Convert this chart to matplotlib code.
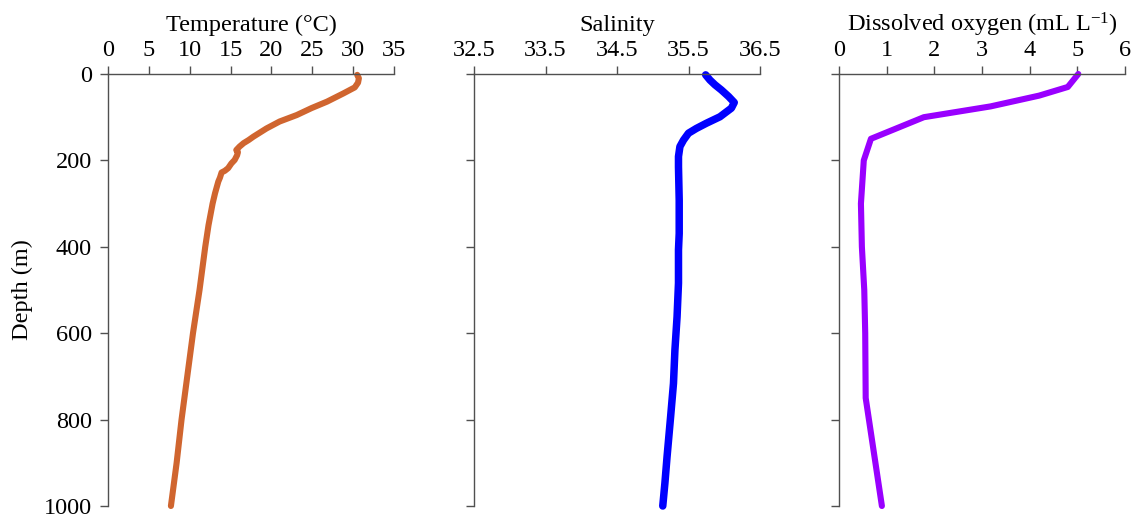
import matplotlib
matplotlib.use("Agg")
import matplotlib.pyplot as plt

plt.rcParams["font.family"] = ["Liberation Serif", "DejaVu Serif"]
plt.rcParams["mathtext.fontset"] = "custom"
plt.rcParams["mathtext.rm"] = "Liberation Serif"
plt.rcParams["mathtext.it"] = "Liberation Serif:italic"
plt.rcParams["mathtext.default"] = "regular"

# Temperature profile (deg C) vs depth (m)
temp_depth = [2, 10, 20, 31, 45, 64, 79, 95, 110, 126, 145, 153, 160, 168, 176,
              181, 188, 199, 207, 218, 224, 228, 240, 249, 276, 300, 350, 400,
              500, 600, 700, 800, 900, 1000]
temp_value = [30.5, 30.7, 30.6, 30.2, 28.8, 26.8, 24.9, 23.1, 21.0, 19.4, 17.8,
              17.2, 16.6, 16.1, 15.7, 15.9, 15.8, 15.5, 15.1, 14.7, 14.3, 13.9,
              13.7, 13.5, 13.1, 12.8, 12.3, 11.9, 11.2, 10.4, 9.7, 9.0, 8.4, 7.7]

# Salinity profile vs depth (m)
sal_depth = [2, 14, 25, 37, 52, 66, 79, 99, 114, 126, 137, 153, 168, 191, 215,
             292, 369, 407, 484, 562, 639, 716, 793, 886, 947, 1000]
sal_value = [35.74, 35.80, 35.87, 35.96, 36.06, 36.14, 36.10, 35.94, 35.75, 35.61,
             35.50, 35.43, 35.38, 35.36, 35.36, 35.37, 35.37, 35.36, 35.36, 35.34,
             35.31, 35.29, 35.25, 35.20, 35.17, 35.14]

# Dissolved oxygen profile (mL/L) vs depth (m)
do_depth = [0, 30, 50, 75, 100, 150, 200, 300, 400, 500, 600, 750, 1000]
do_value = [5.02, 4.80, 4.20, 3.18, 1.78, 0.67, 0.52, 0.46, 0.48, 0.53, 0.55, 0.56, 0.90]

panels = [
    dict(x=temp_value, y=temp_depth, color="#D0652F", lw=4.4,
         xlim=(0, 35), xticks=[0, 5, 10, 15, 20, 25, 30, 35],
         xticklabels=["0", "5", "10", "15", "20", "25", "30", "35"],
         title="Temperature (°C)"),
    dict(x=sal_value, y=sal_depth, color="#0000FF", lw=5.4,
         xlim=(32.5, 36.5), xticks=[32.5, 33.5, 34.5, 35.5, 36.5],
         xticklabels=["32.5", "33.5", "34.5", "35.5", "36.5"],
         title="Salinity"),
    dict(x=do_value, y=do_depth, color="#9900FF", lw=4.4,
         xlim=(0, 6), xticks=[0, 1, 2, 3, 4, 5, 6],
         xticklabels=["0", "1", "2", "3", "4", "5", "6"],
         title="Dissolved oxygen (mL L$^{-1}$)"),
]

depth_ticks = [0, 200, 400, 600, 800, 1000]

fig = plt.figure(figsize=(11.42, 5.19), dpi=100)
lefts = [108 / 1142, 474 / 1142, 839 / 1142]
bottom = 1 - 506 / 519
height = (506 - 74) / 519
width = 286 / 1142

fs = 17.5
spine_color = "#505050"
for i, (p, left) in enumerate(zip(panels, lefts)):
    ax = fig.add_axes([left, bottom, width, height])
    ax.plot(p["x"], p["y"], color=p["color"], lw=p["lw"],
            solid_capstyle="round", solid_joinstyle="round", clip_on=False)
    ax.set_xlim(*p["xlim"])
    ax.set_ylim(1000, 0)
    ax.xaxis.tick_top()
    ax.xaxis.set_label_position("top")
    ax.set_xticks(p["xticks"])
    ax.set_xticklabels(p["xticklabels"])
    ax.set_yticks(depth_ticks)
    if i == 0:
        ax.set_yticklabels([str(d) for d in depth_ticks])
        ax.set_ylabel("Depth (m)", fontsize=fs, labelpad=8)
    else:
        ax.set_yticklabels([])
    ax.set_xlabel(p["title"], fontsize=fs, labelpad=6)
    for side in ("right", "bottom"):
        ax.spines[side].set_visible(False)
    for side in ("left", "top"):
        ax.spines[side].set_color(spine_color)
        ax.spines[side].set_linewidth(1.0)
    ax.tick_params(axis="both", direction="out", length=5.5, width=1.0,
                   color=spine_color, labelsize=fs, pad=4)
    ax.tick_params(axis="y", pad=6)
    ax.set_facecolor("none")

fig.savefig("out.png", dpi=100, facecolor="white")
